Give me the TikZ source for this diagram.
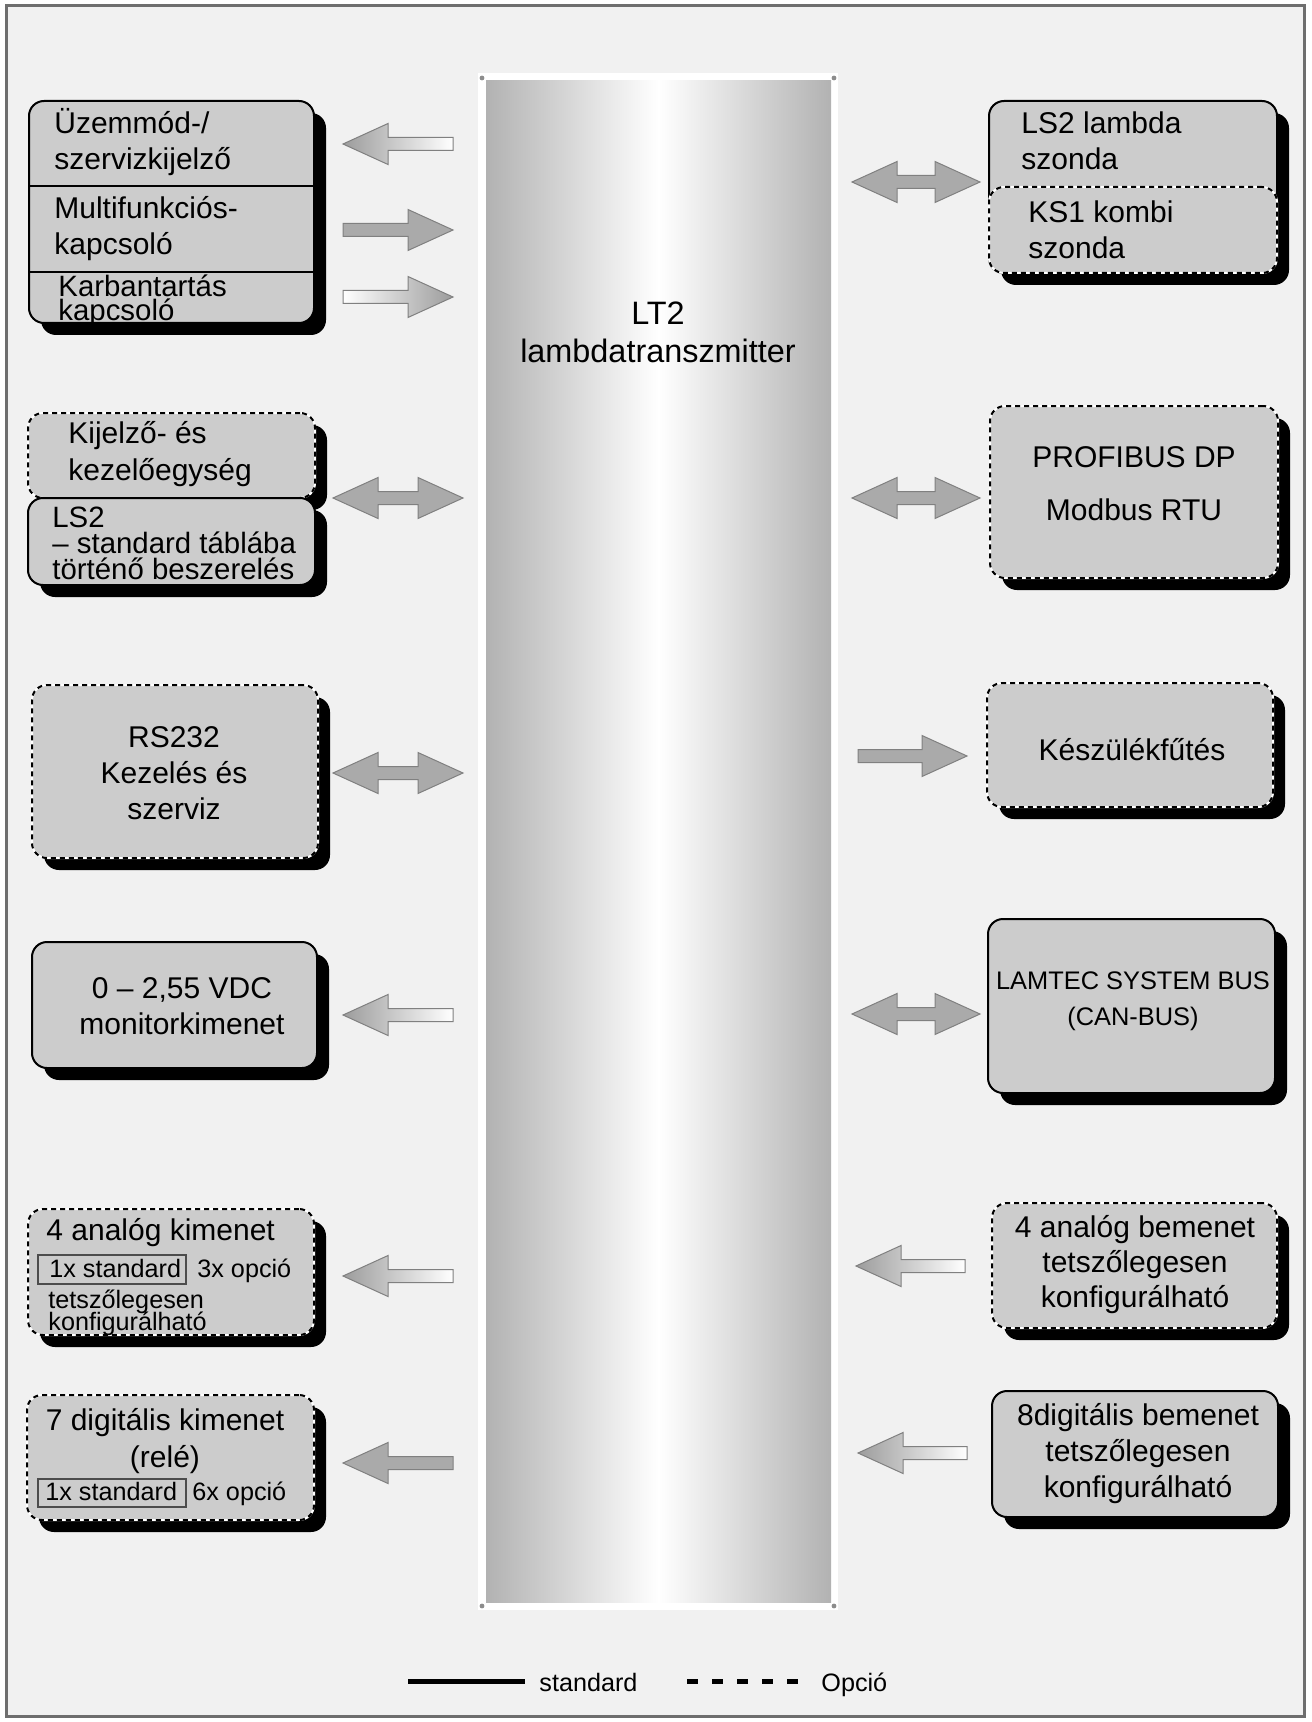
\documentclass[tikz,border=0pt]{standalone}
\usepackage{fontspec}
\setmainfont{Liberation Sans}
\usetikzlibrary{shadows,fit}
\definecolor{bgc}{HTML}{F1F1F1}
\definecolor{boxc}{HTML}{CCCCCC}
\definecolor{arrc}{HTML}{AAAAAA}
\definecolor{arrb}{HTML}{808080}
\definecolor{tipc}{HTML}{9C9C9C}
\definecolor{colc}{HTML}{B2B2B2}
\definecolor{framec}{HTML}{6E6E6E}
\newcommand\txL[2]{\vtop{\baselineskip=#1\lineskiplimit=-\maxdimen\lineskip=0pt\halign{##\hfil\cr#2\crcr}}}
\newcommand\txC[2]{\vtop{\baselineskip=#1\lineskiplimit=-\maxdimen\lineskip=0pt\halign{\hfil##\hfil\cr#2\crcr}}}
\newcommand\fM{\fontsize{15pt}{18pt}\selectfont}
\newcommand\fMs{\fontsize{14.7pt}{15pt}\selectfont}
\newcommand\fS{\fontsize{12.6pt}{15pt}\selectfont}
\newcommand\fL{\fontsize{16.2pt}{19pt}\selectfont}
% block arrows: x-start, x-end, y-center, style
\newcommand\arR[4]{\path[#4] (#1,#3-6.5) -- (#2-45,#3-6.5) -- (#2-45,#3-20.5) -- (#2,#3) -- (#2-45,#3+20.5) -- (#2-45,#3+6.5) -- (#1,#3+6.5) -- cycle;}
\newcommand\arL[4]{\path[#4] (#2,#3-6.5) -- (#1+45,#3-6.5) -- (#1+45,#3-20.5) -- (#1,#3) -- (#1+45,#3+20.5) -- (#1+45,#3+6.5) -- (#2,#3+6.5) -- cycle;}
\newcommand\arD[4]{\path[#4] (#1,#3) -- (#1+45,#3-20.5) -- (#1+45,#3-6.5) -- (#2-45,#3-6.5) -- (#2-45,#3-20.5) -- (#2,#3) -- (#2-45,#3+20.5) -- (#2-45,#3+6.5) -- (#1+45,#3+6.5) -- (#1+45,#3+20.5) -- cycle;}
\tikzset{
  shd/.style={drop shadow={shadow xshift=6pt,shadow yshift=-6pt,opacity=1,fill=black}},
  stdbox/.style={draw=black, line width=1pt, fill=boxc, rounded corners=7.5pt, inner sep=0pt},
  optline/.style={draw=white, line width=1pt, fill=boxc, rounded corners=7.5pt, inner sep=0pt,
     postaction={draw=black, line width=1pt, dash pattern=on 2.5pt off 2pt}},
  smallbox/.style={draw=black!70, line width=0.6pt, inner sep=0pt},
  txt/.style={inner sep=0pt, font=\fM},
  solidarr/.style={fill=arrc, draw=arrb, line width=0.5pt},
  gradL/.style={left color=tipc, right color=white, draw=arrb, line width=0.5pt},
  gradR/.style={left color=white, right color=tipc, draw=arrb, line width=0.5pt},
}
\begin{document}
\begin{tikzpicture}[x=0.5pt,y=-0.5pt]
\useasboundingbox (0,0) rectangle (1311,1722);
\fill[white] (0,0) rectangle (1311,1722);
\draw[framec, line width=1.5pt, fill=bgc] (6,6) rectangle (1304,1716);

% central column
\fill[white] (478,73) rectangle (838,1610);
\node[fit={(486,81) (831,1602)}, inner sep=0pt, left color=colc, right color=colc, middle color=white] (col) {};
\foreach \px/\py in {482/78,834/78,482/1606,834/1606}{\fill[black!45] (\px,\py) circle (1.2pt);}
\node[txt, font=\fL, anchor=base] (lt2) at (658,325) {\txC{19pt}{LT2\cr lambdatranszmitter}};

% ---------- left boxes ----------
\node[stdbox, shd, fit={(29,101) (314,323)}] (b1) {};
\draw[line width=1pt] (29,186) -- (314,186);
\draw[line width=1pt] (29,272) -- (314,272);
\node[txt, anchor=base west] (t1a) at (54,134) {\txL{18pt}{Üzemmód-/\cr szervizkijelző}};
\node[txt, anchor=base west] (t1b) at (54,219) {\txL{18pt}{Multifunkciós-\cr kapcsoló}};
\node[txt, font=\fMs, anchor=base west] (t1c) at (58,297) {\txL{12pt}{Karbantartás\cr kapcsoló}};

\node[optline, shd, fit={(28,413) (315,498)}] (b2a) {};
\node[stdbox, shd, fit={(28,498) (315,585)}] (b2b) {};
\node[txt, anchor=base west] (t2a) at (68,443) {\txL{18.5pt}{Kijelző- és\cr kezelőegység}};
\node[txt, font=\fMs, anchor=base west] (t2b) at (52,527) {\txL{13pt}{LS2\cr – standard táblába\cr történő beszerelés}};

\node[optline, shd, fit={(32,685) (318,858)}] (b3) {};
\node[txt, anchor=base] (t3) at (174,747) {\txC{18.2pt}{RS232\cr Kezelés és\cr szerviz}};

\node[stdbox, shd, fit={(32,942) (317,1068)}] (b4) {};
\node[txt, anchor=base] (t4) at (182,998) {\txC{18pt}{0 – 2,55 VDC\cr monitorkimenet}};

\node[optline, shd, fit={(28,1209) (314,1335)}] (b5) {};
\node[txt, anchor=base west] (t5a) at (46,1240) {4 analóg kimenet};
\node[smallbox, fit={(38,1255) (186,1284)}] (sb5) {};
\node[txt, font=\fS, anchor=base west] (t5b) at (49,1277) {1x standard};
\node[txt, font=\fS, anchor=base west] (t5c) at (197,1277) {3x opció};
\node[txt, font=\fS, anchor=base west] (t5d) at (48,1308) {\txL{11pt}{tetszőlegesen\cr konfigurálható}};

\node[optline, shd, fit={(27,1395) (314,1520)}] (b6) {};
\node[txt, anchor=base] (t6a) at (165,1430) {\txC{18.5pt}{7 digitális kimenet\cr (relé)}};
\node[smallbox, fit={(38,1479) (186,1507)}] (sb6) {};
\node[txt, font=\fS, anchor=base west] (t6b) at (45,1500) {1x standard};
\node[txt, font=\fS, anchor=base west] (t6c) at (192,1500) {6x opció};

% ---------- right boxes ----------
\node[stdbox, shd, fit={(989,101) (1277,273)}] (r1) {};
\node[optline, fit={(989,187) (1277,273)}] (r1b) {};
\node[txt, anchor=base west] (tr1a) at (1021,134) {\txL{18pt}{LS2 lambda\cr szonda}};
\node[txt, anchor=base west] (tr1b) at (1028,223) {\txL{18pt}{KS1 kombi\cr szonda}};

\node[optline, shd, fit={(990,406) (1278,578)}] (r2) {};
\node[txt, anchor=base] (tr2) at (1134,467) {\txC{26.5pt}{PROFIBUS DP\cr Modbus RTU}};

\node[optline, shd, fit={(987,683) (1273,807)}] (r3) {};
\node[txt, anchor=base] (tr3) at (1132,760) {Készülékfűtés};

\node[stdbox, shd, fit={(988,919) (1275,1093)}] (r4) {};
\node[txt, font=\fontsize{12.7pt}{15pt}\selectfont, anchor=base] (tr4) at (1133,989) {\txC{18pt}{LAMTEC SYSTEM BUS\cr (CAN-BUS)}};

\node[optline, shd, fit={(992,1203) (1277,1328)}] (r5) {};
\node[txt, anchor=base] (tr5) at (1135,1237) {\txC{17.7pt}{4 analóg bemenet\cr tetszőlegesen\cr konfigurálható}};

\node[stdbox, shd, fit={(992,1391) (1278,1517)}] (r6) {};
\node[txt, anchor=base] (tr6) at (1138,1425) {\txC{18pt}{8digitális bemenet\cr tetszőlegesen\cr konfigurálható}};

% ---------- block arrows ----------
\arL{343}{453}{144}{gradL}
\arR{343}{453}{230}{solidarr}
\arR{343}{453}{297}{gradR}
\arD{333}{463}{498}{solidarr}
\arD{333}{463}{773}{solidarr}
\arL{343}{453}{1015}{gradL}
\arL{343}{453}{1276}{gradL}
\arL{343}{453}{1463}{solidarr}

\arD{852}{980}{182}{solidarr}
\arD{852}{980}{498}{solidarr}
\arR{858}{967}{756}{solidarr}
\arD{852}{980}{1014}{solidarr}
\arL{856}{965}{1266}{gradL}
\arL{858}{967}{1453}{gradL}

% ---------- legend ----------
\coordinate (ls1) at (408,1681);
\coordinate (ls2) at (525,1681);
\coordinate (lo1) at (687,1681);
\coordinate (lo2) at (800,1681);
\draw[line width=2.5pt] (ls1) -- (ls2);
\draw[line width=2.5pt, dash pattern=on 5.5pt off 7pt] (lo1) -- (lo2);
\node[txt, font=\fS, anchor=base west] (lgs) at (539,1691) {standard};
\node[txt, font=\fS, anchor=base west] (lgo) at (821,1691) {Opció};
\end{tikzpicture}
\end{document}
